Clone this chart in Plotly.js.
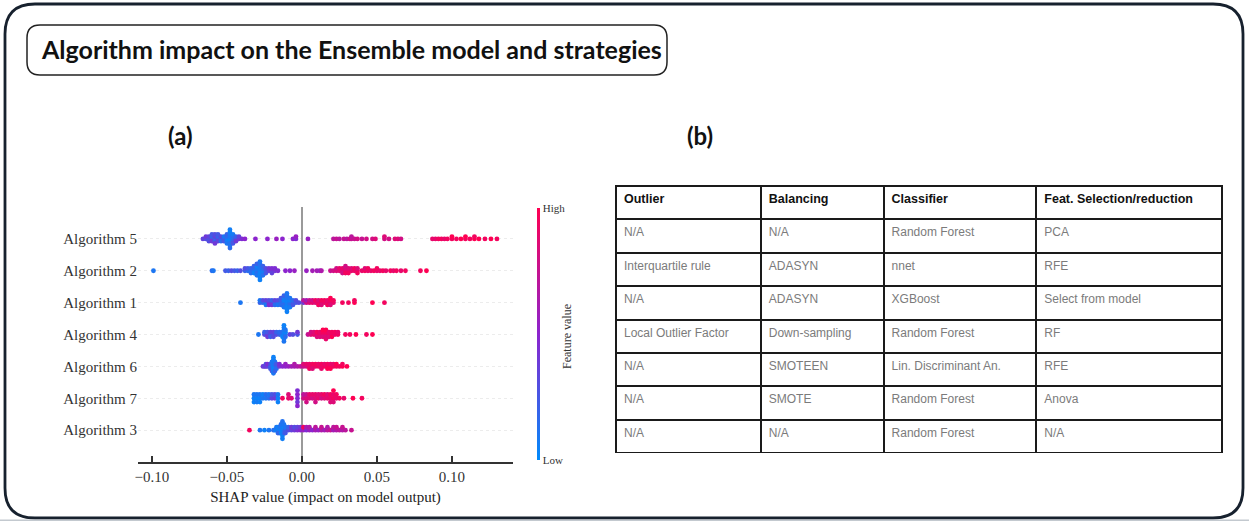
<!DOCTYPE html>
<html>
<head>
<meta charset="utf-8">
<script src="https://cdn.plot.ly/plotly-3.0.1.min.js"></script>
<style>
  html, body { margin: 0; padding: 0; background: #ffffff; }
  #chart { width: 1249px; height: 521px; }
</style>
</head>
<body>
<div id="chart"></div>
<script>
// ---------------- DATA ----------------
// Rows of the SHAP summary plot, bottom to top
const algorithms = ["Algorithm 3", "Algorithm 7", "Algorithm 6", "Algorithm 4", "Algorithm 1", "Algorithm 2", "Algorithm 5"];

// Each point: [SHAP value, normalised feature value (0 = low, 1 = high)]
const alg5 = [
  [-0.066,0.35],[-0.064,0.30],[-0.064,0.40],[-0.062,0.25],[-0.062,0.35],[-0.062,0.30],
  [-0.060,0.30],[-0.060,0.20],[-0.060,0.40],[-0.060,0.25],
  [-0.058,0.25],[-0.058,0.35],[-0.058,0.20],[-0.058,0.30],[-0.058,0.40],
  [-0.056,0.30],[-0.056,0.20],[-0.056,0.35],[-0.056,0.25],
  [-0.054,0.25],[-0.054,0.30],[-0.054,0.15],[-0.052,0.20],[-0.052,0.10],[-0.052,0.25],
  [-0.050,0.10],[-0.050,0.15],[-0.050,0.05],[-0.050,0.20],[-0.050,0.10],
  [-0.048,0.05],[-0.048,0.10],[-0.048,0.05],[-0.048,0.08],[-0.048,0.12],[-0.048,0.05],[-0.048,0.10],[-0.048,0.06],[-0.048,0.15],
  [-0.046,0.10],[-0.046,0.15],[-0.046,0.20],[-0.046,0.08],[-0.046,0.25],
  [-0.044,0.30],[-0.044,0.20],[-0.044,0.40],[-0.042,0.40],[-0.042,0.35],[-0.040,0.45],
  [-0.038,0.50],[-0.031,0.50],[-0.023,0.50],[-0.017,0.55],[-0.013,0.50],[-0.006,0.50],[-0.004,0.45],[-0.004,0.55],[0.004,0.55],
  [0.021,0.70],[0.023,0.75],[0.025,0.70],[0.028,0.75],[0.030,0.70],[0.032,0.80],[0.033,0.75],[0.033,0.70],
  [0.035,0.75],[0.037,0.80],[0.040,0.75],[0.043,0.80],[0.047,0.80],[0.049,0.85],[0.055,0.80],[0.055,0.85],
  [0.058,0.80],[0.062,0.85],[0.064,0.85],[0.066,0.80],
  [0.087,0.90],[0.089,0.90],[0.091,0.95],[0.093,0.95],[0.095,0.90],[0.097,0.95],[0.100,0.95],[0.100,1.0],
  [0.103,0.95],[0.106,1.0],[0.109,0.95],[0.109,1.0],[0.112,0.95],[0.115,1.0],[0.115,0.95],[0.118,1.0],
  [0.122,0.95],[0.126,1.0],[0.130,0.95]
];
const alg2 = [
  [-0.099,0.10],[-0.060,0.15],[-0.059,0.10],
  [-0.051,0.25],[-0.049,0.20],[-0.047,0.30],[-0.045,0.25],[-0.043,0.20],[-0.041,0.30],
  [-0.038,0.20],[-0.038,0.30],[-0.036,0.15],[-0.036,0.25],
  [-0.034,0.10],[-0.034,0.20],[-0.034,0.15],[-0.032,0.10],[-0.032,0.15],[-0.032,0.05],[-0.032,0.20],
  [-0.030,0.05],[-0.030,0.10],[-0.030,0.15],[-0.030,0.05],[-0.030,0.10],[-0.030,0.20],
  [-0.028,0.05],[-0.028,0.08],[-0.028,0.05],[-0.028,0.10],[-0.028,0.05],[-0.028,0.12],[-0.028,0.06],[-0.028,0.10],[-0.028,0.05],
  [-0.026,0.10],[-0.026,0.15],[-0.026,0.08],[-0.026,0.20],[-0.026,0.12],
  [-0.024,0.20],[-0.024,0.30],[-0.024,0.25],[-0.022,0.35],[-0.022,0.40],
  [-0.020,0.40],[-0.020,0.45],[-0.020,0.35],[-0.018,0.40],[-0.018,0.45],[-0.016,0.45],
  [-0.011,0.50],[-0.008,0.50],[-0.005,0.55],
  [0.003,0.55],[0.007,0.60],[0.010,0.60],[0.012,0.55],[0.013,0.65],
  [0.019,0.75],[0.021,0.80],[0.023,0.85],[0.023,0.80],[0.025,0.85],[0.025,0.90],[0.027,0.85],[0.027,0.90],[0.027,0.80],
  [0.029,0.90],[0.029,0.85],[0.029,0.95],[0.029,0.80],[0.031,0.90],[0.031,0.85],[0.031,0.95],[0.033,0.90],[0.033,0.85],
  [0.035,0.90],[0.035,0.95],[0.037,0.90],[0.037,0.85],[0.037,0.95],[0.040,0.90],[0.042,0.95],[0.042,0.85],
  [0.044,0.90],[0.044,0.95],[0.046,0.90],[0.048,0.95],[0.050,0.90],[0.050,0.95],[0.052,0.90],[0.054,0.95],[0.056,0.90],
  [0.059,0.95],[0.061,0.90],[0.063,0.95],[0.066,0.90],[0.069,0.95],
  [0.079,0.95],[0.083,1.0]
];
const alg1 = [
  [-0.041,0.10],
  [-0.028,0.20],[-0.028,0.10],[-0.026,0.15],[-0.026,0.30],[-0.024,0.20],[-0.024,0.35],[-0.024,0.10],
  [-0.022,0.40],[-0.022,0.30],[-0.022,0.45],[-0.020,0.30],[-0.020,0.20],[-0.020,0.40],
  [-0.018,0.25],[-0.018,0.35],[-0.018,0.15],[-0.016,0.20],[-0.016,0.30],[-0.016,0.10],
  [-0.014,0.10],[-0.014,0.20],[-0.014,0.15],[-0.014,0.25],
  [-0.012,0.10],[-0.012,0.05],[-0.012,0.15],[-0.012,0.08],[-0.012,0.10],[-0.012,0.20],
  [-0.010,0.05],[-0.010,0.05],[-0.010,0.08],[-0.010,0.10],[-0.010,0.05],[-0.010,0.12],[-0.010,0.06],[-0.010,0.10],[-0.010,0.05],
  [-0.008,0.10],[-0.008,0.05],[-0.008,0.15],[-0.008,0.10],[-0.008,0.08],
  [-0.006,0.20],[-0.006,0.15],[-0.006,0.25],[-0.004,0.25],[-0.004,0.30],[-0.002,0.30],
  [0.001,0.40],[0.001,0.70],[0.003,0.80],[0.003,0.60],[0.005,0.85],[0.005,0.75],[0.007,0.90],[0.007,0.80],
  [0.009,0.85],[0.009,0.95],[0.011,0.90],[0.011,0.85],[0.011,0.95],[0.013,0.90],[0.013,0.95],[0.013,0.85],
  [0.015,0.90],[0.015,0.95],[0.017,0.85],[0.017,0.90],[0.017,0.95],
  [0.019,0.90],[0.019,0.95],[0.019,0.85],[0.019,1.0],[0.021,0.90],[0.021,0.95],
  [0.027,0.95],[0.031,0.95],[0.035,1.0],[0.035,0.95],[0.047,1.0],[0.055,0.95]
];
const alg4 = [
  [-0.029,0.10],
  [-0.025,0.30],[-0.025,0.20],[-0.023,0.35],[-0.023,0.25],[-0.023,0.40],
  [-0.021,0.30],[-0.021,0.35],[-0.021,0.20],[-0.019,0.25],[-0.019,0.35],[-0.019,0.30],
  [-0.017,0.30],[-0.017,0.20],[-0.015,0.20],[-0.015,0.15],
  [-0.013,0.10],[-0.013,0.15],[-0.013,0.05],
  [-0.012,0.05],[-0.012,0.08],[-0.012,0.05],[-0.012,0.10],[-0.012,0.05],[-0.012,0.06],[-0.012,0.10],[-0.012,0.05],
  [-0.011,0.10],[-0.011,0.05],[-0.011,0.15],[-0.011,0.10],
  [-0.008,0.35],[-0.006,0.30],[-0.003,0.25],[-0.003,0.40],
  [0.004,0.75],[0.006,0.85],[0.006,0.80],[0.008,0.90],[0.008,0.85],
  [0.010,0.90],[0.010,0.95],[0.010,0.85],[0.012,0.95],[0.012,0.90],[0.012,0.85],
  [0.014,0.90],[0.014,0.95],[0.014,0.85],[0.014,1.0],
  [0.016,0.90],[0.016,0.95],[0.016,0.85],[0.016,1.0],[0.016,0.90],
  [0.018,0.95],[0.018,0.90],[0.018,0.85],[0.020,0.90],[0.020,0.95],[0.020,1.0],
  [0.022,0.90],[0.022,0.95],[0.024,0.95],[0.024,0.90],
  [0.029,0.95],[0.032,0.95],[0.036,1.0],[0.043,0.95],[0.047,1.0]
];
const alg6 = [
  [-0.026,0.40],[-0.025,0.35],[-0.024,0.40],[-0.024,0.30],[-0.023,0.35],[-0.023,0.45],
  [-0.021,0.20],[-0.021,0.30],[-0.021,0.25],
  [-0.020,0.10],[-0.020,0.15],[-0.020,0.20],[-0.020,0.10],[-0.020,0.25],
  [-0.019,0.05],[-0.019,0.08],[-0.019,0.05],[-0.019,0.10],[-0.019,0.05],[-0.019,0.06],[-0.019,0.10],[-0.019,0.05],
  [-0.018,0.10],[-0.018,0.15],[-0.018,0.05],[-0.018,0.10],[-0.018,0.20],
  [-0.017,0.20],[-0.017,0.25],[-0.017,0.15],
  [-0.015,0.40],[-0.015,0.45],[-0.013,0.50],[-0.011,0.50],[-0.011,0.55],[-0.009,0.55],[-0.007,0.60],
  [-0.005,0.60],[-0.005,0.65],[-0.003,0.65],[-0.001,0.70],
  [0.001,0.75],[0.001,0.85],[0.003,0.80],[0.003,0.90],[0.005,0.85],[0.005,0.90],[0.005,0.95],
  [0.007,0.90],[0.007,0.95],[0.007,0.85],[0.009,0.90],[0.009,0.95],[0.011,0.95],[0.011,0.90],
  [0.013,0.85],[0.013,0.95],[0.013,0.90],[0.015,0.95],[0.015,0.90],
  [0.017,0.90],[0.017,0.95],[0.017,1.0],[0.019,0.95],[0.019,0.90],[0.019,1.0],
  [0.021,0.95],[0.021,0.90],[0.023,0.95],[0.023,1.0],[0.025,0.95],[0.027,1.0],[0.027,0.95],[0.030,1.0]
];
const alg7 = [
  [-0.032,0.05],[-0.032,0.10],[-0.032,0.05],[-0.030,0.05],[-0.030,0.10],[-0.030,0.08],
  [-0.028,0.05],[-0.028,0.10],[-0.028,0.05],[-0.026,0.10],[-0.026,0.05],
  [-0.024,0.10],[-0.024,0.15],[-0.022,0.15],[-0.022,0.10],
  [-0.020,0.35],[-0.020,0.25],[-0.018,0.40],[-0.018,0.30],
  [-0.016,0.05],[-0.016,0.10],[-0.016,0.05],
  [-0.013,0.95],[-0.009,0.90],[-0.009,0.85],[-0.007,0.85],
  [-0.003,0.45],[-0.003,0.50],[-0.003,0.40],[-0.003,0.45],[-0.003,0.50],
  [0.001,0.80],[0.001,0.70],[0.003,0.85],[0.003,0.75],[0.003,0.80],[0.005,0.85],[0.005,0.90],
  [0.007,0.80],[0.007,0.90],[0.009,0.85],[0.009,0.90],[0.009,0.80],[0.011,0.90],[0.011,0.85],
  [0.013,0.80],[0.013,0.90],[0.015,0.85],[0.015,0.95],[0.017,0.90],[0.017,0.85],
  [0.019,0.90],[0.019,0.95],[0.019,0.85],[0.021,0.95],[0.021,0.90],[0.021,0.85],[0.021,1.0],
  [0.023,0.90],[0.023,0.95],[0.025,0.95],[0.028,0.90],
  [0.034,1.0],[0.040,0.95]
];
const alg3 = [
  [-0.035,0.95],
  [-0.028,0.10],[-0.025,0.05],[-0.022,0.10],[-0.019,0.15],[-0.018,0.10],
  [-0.017,0.05],[-0.017,0.10],[-0.016,0.10],[-0.016,0.05],[-0.016,0.15],
  [-0.015,0.05],[-0.015,0.10],[-0.015,0.20],[-0.014,0.05],[-0.014,0.10],[-0.014,0.05],[-0.014,0.15],
  [-0.013,0.05],[-0.013,0.08],[-0.013,0.05],[-0.013,0.10],[-0.013,0.05],[-0.013,0.12],[-0.013,0.06],
  [-0.012,0.10],[-0.012,0.05],[-0.012,0.15],[-0.012,0.10],
  [-0.011,0.20],[-0.011,0.10],[-0.011,0.25],[-0.009,0.30],[-0.009,0.20],
  [-0.007,0.35],[-0.007,0.40],[-0.005,0.40],[-0.005,0.30],[-0.003,0.45],[-0.003,0.35],
  [-0.001,0.50],[-0.001,0.40],
  [0.001,0.55],[0.001,0.95],[0.003,0.45],[0.003,0.60],[0.005,0.55],[0.005,0.65],
  [0.007,0.50],[0.009,0.60],[0.009,0.70],[0.011,0.55],[0.013,0.65],[0.013,0.75],
  [0.015,0.60],[0.017,0.70],[0.017,0.65],[0.019,0.75],[0.021,0.60],[0.021,0.70],
  [0.023,0.65],[0.023,0.75],[0.025,0.70],[0.027,0.65],[0.027,0.75],[0.029,0.70],[0.033,0.75]
];
const rows = [alg3, alg7, alg6, alg4, alg1, alg2, alg5];

const xTicks = [-0.10, -0.05, 0.00, 0.05, 0.10];
const xTitle = "SHAP value (impact on model output)";
const colorLabels = ["Low", "High"];
const colorTitle = "Feature value";

// Table (b)
const tableHeader = ["Outlier", "Balancing", "Classifier", "Feat. Selection/reduction"];
const colOutlier = ["N/A", "Interquartile rule", "N/A", "Local Outlier Factor", "N/A", "N/A", "N/A"];
const colBalancing = ["N/A", "ADASYN", "ADASYN", "Down-sampling", "SMOTEEN", "SMOTE", "N/A"];
const colClassifier = ["Random Forest", "nnet", "XGBoost", "Random Forest", "Lin. Discriminant An.", "Random Forest", "Random Forest"];
const colFeatSel = ["PCA", "RFE", "Select from model", "RF", "RFE", "Anova", "N/A"];

const mainTitle = "Algorithm impact on the Ensemble model and strategies";
const panelA = "(a)";
const panelB = "(b)";

// ---------------- LAYOUT HELPERS ----------------
const W = 1249, H = 521;
const px = v => v / W;
const py = v => 1 - v / H;

// SHAP-style beeswarm stacking (deterministic): quantise x, stack alternately
function swarm(xs) {
  const nbins = 100;
  const mn = Math.min(...xs), mx = Math.max(...xs);
  const q = xs.map(v => Math.round(nbins * (v - mn) / (mx - mn + 1e-8)));
  const idx = xs.map((_, i) => i).sort((a, b) => (q[a] - q[b]) || (a - b));
  const ys = new Array(xs.length).fill(0);
  let layer = 0, last = -1;
  for (const i of idx) {
    if (q[i] !== last) layer = 0;
    ys[i] = Math.ceil(layer / 2) * ((layer % 2) * 2 - 1);
    layer++; last = q[i];
  }
  const m = Math.max(...ys) + 1;
  return ys.map(y => y * 0.9 * (0.4 / m));
}

function roundRect(x0, y0, x1, y1, r) {
  const P = (x, y) => px(x).toFixed(5) + ',' + py(y).toFixed(5);
  return 'M' + P(x0 + r, y0) + ' L' + P(x1 - r, y0) + ' Q' + P(x1, y0) + ' ' + P(x1, y0 + r) +
         ' L' + P(x1, y1 - r) + ' Q' + P(x1, y1) + ' ' + P(x1 - r, y1) +
         ' L' + P(x0 + r, y1) + ' Q' + P(x0, y1) + ' ' + P(x0, y1 - r) +
         ' L' + P(x0, y0 + r) + ' Q' + P(x0, y0) + ' ' + P(x0 + r, y0) + ' Z';
}

const shapScale = [[0, 'rgb(0,139,251)'], [0.5, 'rgb(140,36,206)'], [1, 'rgb(255,0,82)']];
const serif = "Liberation Serif, Times New Roman, serif";

const traces = rows.map((pts, k) => {
  const xs = pts.map(p => p[0]);
  const off = swarm(xs);
  return {
    type: 'scatter', mode: 'markers',
    x: xs, y: off.map(o => k + o),
    name: algorithms[k], showlegend: false, hoverinfo: 'x+name',
    marker: {
      size: 4.8, color: pts.map(p => p[1]), colorscale: shapScale, cmin: 0, cmax: 1,
      line: { width: 0 },
      showscale: k === 0,
      colorbar: {
        x: px(537), xanchor: 'left', xpad: 0,
        y: 1 - 334 / H, yanchor: 'middle', ypad: 0,
        len: 252, lenmode: 'pixels', thickness: 3,
        outlinewidth: 0, ticks: '',
        tickvals: [0, 1], ticktext: colorLabels,
        tickfont: { family: serif, size: 11, color: '#333333' }
      }
    },
    xaxis: 'x', yaxis: 'y'
  };
});

traces.push({
  type: 'table',
  domain: { x: [px(616), px(1222)], y: [py(453), py(186)] },
  columnwidth: [145, 123, 153, 186],
  header: {
    values: tableHeader, align: 'left', height: 33.4,
    line: { color: '#1a1a1a', width: 2 }, fill: { color: '#ffffff' },
    font: { family: 'Liberation Sans, Arial, sans-serif', size: 12.5, color: '#111111', weight: 'bold' }
  },
  cells: {
    values: [colOutlier, colBalancing, colClassifier, colFeatSel], align: 'left', height: 33.4,
    line: { color: '#1a1a1a', width: 2 }, fill: { color: '#ffffff' },
    font: { family: 'Liberation Sans, Arial, sans-serif', size: 12, color: '#7b7b7b' }
  }
});

const layout = {
  width: W, height: H,
  margin: { l: 0, r: 0, t: 0, b: 0, pad: 0 },
  paper_bgcolor: '#ffffff', plot_bgcolor: '#ffffff',
  showlegend: false,
  xaxis: {
    domain: [px(138), px(513)], range: [-0.1093, 0.1407],
    tickvals: xTicks, tickformat: '.2f',
    ticks: 'inside', ticklen: 6, tickwidth: 1.5, tickcolor: '#333333',
    showline: true, linecolor: '#333333', linewidth: 1.8,
    zeroline: true, zerolinecolor: '#9a9a9a', zerolinewidth: 1.5,
    showgrid: false, fixedrange: true,
    tickfont: { family: serif, size: 15, color: '#333333' },
    title: { text: xTitle, font: { family: serif, size: 15, color: '#222222' }, standoff: 8 }
  },
  yaxis: {
    domain: [py(462), py(207)], range: [-1, 7],
    tickvals: algorithms.map((_, i) => i), ticktext: algorithms,
    ticks: '', showline: false, zeroline: false,
    showgrid: true, gridcolor: '#e0e0e0', gridwidth: 0.6, griddash: 'dot',
    fixedrange: true,
    tickfont: { family: serif, size: 15, color: '#333333' }
  },
  shapes: [
    { type: 'path', xref: 'paper', yref: 'paper', path: roundRect(5, 4, 1243, 518, 30),
      line: { color: '#17212e', width: 2.8 }, fillcolor: 'rgba(0,0,0,0)', layer: 'below' },
    { type: 'path', xref: 'paper', yref: 'paper', path: roundRect(27, 25, 667, 75, 13),
      line: { color: '#222222', width: 1.5 }, fillcolor: 'rgba(0,0,0,0)', layer: 'below' },
    { type: 'rect', xref: 'paper', yref: 'paper', x0: 0, x1: 1, y0: 0, y1: py(519.5),
      line: { width: 0 }, fillcolor: '#c3c9cf', layer: 'below' }
  ],
  annotations: [
    { xref: 'paper', yref: 'paper', x: px(351), y: py(49), text: mainTitle, showarrow: false,
      xanchor: 'center', yanchor: 'middle',
      font: { family: 'Lato, Open Sans, sans-serif', size: 25, color: '#111111', weight: 'bold' } },
    { xref: 'paper', yref: 'paper', x: px(180), y: py(135), text: panelA, showarrow: false,
      xanchor: 'center', yanchor: 'middle',
      font: { family: 'Lato, Open Sans, sans-serif', size: 24, color: '#111111', weight: 'bold' } },
    { xref: 'paper', yref: 'paper', x: px(700), y: py(135), text: panelB, showarrow: false,
      xanchor: 'center', yanchor: 'middle',
      font: { family: 'Lato, Open Sans, sans-serif', size: 24, color: '#111111', weight: 'bold' } },
    { xref: 'paper', yref: 'paper', x: px(567), y: py(337), text: colorTitle, showarrow: false,
      textangle: -90, xanchor: 'center', yanchor: 'middle',
      font: { family: serif, size: 12, color: '#333333' } }
  ]
};

Plotly.newPlot('chart', traces, layout, { displayModeBar: false, staticPlot: true });
</script>
</body>
</html>
